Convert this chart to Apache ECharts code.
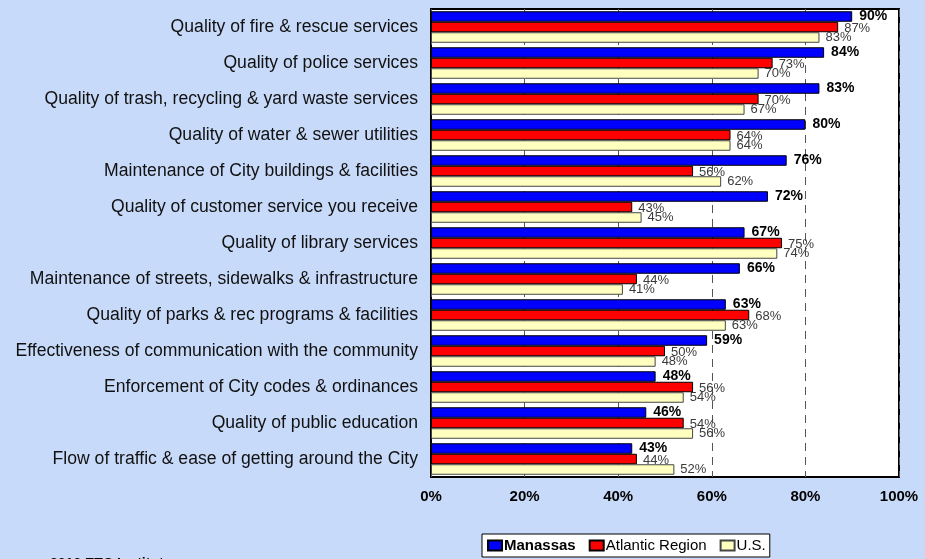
<!DOCTYPE html>
<html>
<head>
<meta charset="utf-8">
<script src="https://cdn.jsdelivr.net/npm/echarts@6/dist/echarts.min.js"></script>
<style>
html,body{margin:0;padding:0;background:#C8DAF9;}
#chart{width:925px;height:559px;}
</style>
</head>
<body>
<div id="chart"></div>
<script>
var categories = [
  "Quality of fire & rescue services",
  "Quality of police services",
  "Quality of trash, recycling & yard waste services",
  "Quality of water & sewer utilities",
  "Maintenance of City buildings & facilities",
  "Quality of customer service you receive",
  "Quality of library services",
  "Maintenance of streets, sidewalks & infrastructure",
  "Quality of parks & rec programs & facilities",
  "Effectiveness of communication with the community",
  "Enforcement of City codes & ordinances",
  "Quality of public education",
  "Flow of traffic & ease of getting around the City"
];
var manassas = [90, 84, 83, 80, 76, 72, 67, 66, 63, 59, 48, 46, 43];
var atlantic = [87, 73, 70, 64, 56, 43, 75, 44, 68, 50, 56, 54, 44];
var us       = [83, 70, 67, 64, 62, 45, 74, 41, 63, 48, 54, 56, 52];
var seriesNames = ["Manassas", "Atlantic Region", "U.S."];
var footerText = "2016 ETC Institute";

var chart = echarts.init(document.getElementById('chart'));
var font = "Liberation Sans, Arial, sans-serif";
function pct(p){ return p.value + '%'; }
chart.setOption({
  backgroundColor: '#C8DAF9',
  animation: false,
  textStyle: { fontFamily: font },
  grid: {
    left: 431, right: 26, top: 9, bottom: 82,
    show: true, backgroundColor: '#ffffff', borderColor: '#000000', borderWidth: 2
  },
  legend: {
    left: 482, top: 534, icon: 'rect',
    backgroundColor: '#ffffff', borderColor: '#000000', borderWidth: 1, borderRadius: 0,
    padding: [4, 4, 4, 5],
    itemWidth: 14, itemHeight: 10, itemGap: 13,
    textStyle: { fontFamily: font, fontSize: 15, color: '#000', padding: [0,0,0,-3] },
    data: [
      { name: seriesNames[0], textStyle: { fontWeight: 'bold' } },
      { name: seriesNames[1] },
      { name: seriesNames[2] }
    ]
  },
  xAxis: {
    type: 'value', min: 0, max: 100, interval: 20,
    axisLine: { show: false }, axisTick: { show: false },
    splitLine: { show: true, lineStyle: { color: '#555', type: [8, 6], width: 1 } },
    axisLabel: { formatter: '{value}%', fontFamily: font, fontSize: 15, fontWeight: 'bold', color: '#000', margin: 12 }
  },
  yAxis: {
    type: 'category', data: categories, inverse: true,
    axisLine: { show: false }, axisTick: { show: false },
    axisLabel: { fontFamily: font, fontSize: 17.6, color: '#111', margin: 13 }
  },
  graphic: [{
    type: 'text', left: 50, top: 557,
    style: { text: footerText, font: 'bold 14px ' + font, fill: '#000' }
  }],
  series: [
    { name: seriesNames[0], type: 'bar', data: manassas, barWidth: 10.5, barGap: '0%',
      itemStyle: { color: '#0000FF', borderColor: '#000', borderWidth: 1 },
      label: { show: true, position: 'right', distance: 7, formatter: pct, fontFamily: font, fontSize: 14, fontWeight: 'bold', color: '#000' } },
    { name: seriesNames[1], type: 'bar', data: atlantic, barWidth: 10.5, barGap: '0%',
      itemStyle: { color: '#FF0000', borderColor: '#000', borderWidth: 1 },
      label: { show: true, position: 'right', distance: 6, offset: [0, 1], formatter: pct, fontFamily: font, fontSize: 13, color: '#3a3a3a' } },
    { name: seriesNames[2], type: 'bar', data: us, barWidth: 10.5, barGap: '0%',
      itemStyle: { color: '#FFFFC0', borderColor: '#444', borderWidth: 1 },
      label: { show: true, position: 'right', distance: 6, offset: [0, 0], formatter: pct, fontFamily: font, fontSize: 13, color: '#3a3a3a' } }
  ]
});
</script>
</body>
</html>
